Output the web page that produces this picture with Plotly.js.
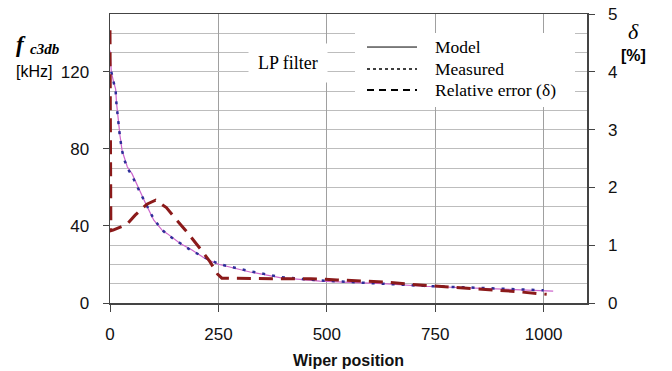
<!DOCTYPE html>
<html>
<head>
<meta charset="utf-8">
<script src="https://cdn.plot.ly/plotly-3.0.1.min.js"></script>
<style>html,body{margin:0;padding:0;background:#fff;}#chart{width:672px;height:371px;}</style>
</head>
<body>
<div id="chart"></div>
<script>
// Model (solid) cut-off frequency, kHz
const modelPos = [0, 3, 8, 13, 15, 18, 23, 28, 32, 40, 51, 69, 84, 101, 120, 132, 162, 189, 220, 250, 323, 392, 484, 553, 630, 723, 808, 877, 946, 1022];
const modelF   = [131, 120, 115, 111, 104, 96, 87, 79, 76, 70.6, 67, 57.7, 50.8, 43, 37.8, 36, 30.9, 27.5, 23, 20.1, 16.1, 13.2, 11.4, 10.7, 10.1, 8.7, 8.0, 7.5, 7.0, 6.2];
// Measured (dotted)
const measPos = [3, 8, 13, 15, 18, 23, 28, 32, 40, 51, 69, 84, 101, 120, 132, 162, 189, 220, 250, 323, 392, 484, 553, 630, 723, 808, 877, 946, 1000];
const measF   = [120, 114, 110, 103, 95, 86, 79, 75, 70, 66, 57.5, 51, 43.5, 38, 35.5, 31, 27, 23.5, 20.3, 16.5, 13.5, 11.7, 10.8, 10.0, 8.9, 8.2, 7.6, 7.2, 6.6];
// Relative error (dashed), %
const errPos = [0, 2, 7, 39, 58, 85, 105, 130, 151, 174, 208, 230, 248, 258, 384, 463, 524, 577, 637, 696, 757, 815, 877, 934, 992, 1007];
const errVal = [4.72, 1.25, 1.26, 1.36, 1.52, 1.71, 1.78, 1.65, 1.46, 1.26, 0.94, 0.72, 0.50, 0.43, 0.42, 0.42, 0.40, 0.38, 0.36, 0.32, 0.29, 0.25, 0.23, 0.20, 0.16, 0.15];
// Legend labels
const legendNames = ['Model', 'Measured', 'Relative error (δ)'];
const xTicks = [0, 250, 500, 750, 1000];

const traces = [
  {x: modelPos, y: modelF, type: 'scatter', mode: 'lines', name: legendNames[0],
   line: {color: '#cc66cc', width: 1.2}, showlegend: false},
  {x: measPos, y: measF, type: 'scatter', mode: 'lines', name: legendNames[1],
   line: {color: '#2e2e99', width: 2.5, dash: '3px,7px'}, showlegend: false},
  {x: errPos, y: errVal, type: 'scatter', mode: 'lines', name: legendNames[2], yaxis: 'y2',
   line: {color: '#8b1a1a', width: 3, dash: '14px,8px'}, showlegend: false}
];

const px = v => (v - 110) / 477;
const py = v => (302.7 - v) / 288.7;

const rowY = [47, 69, 90];
const sampleDash = ['solid', 'dot', '7px,5px'];
const sampleW = [1, 1.5, 2];

const shapes = [
  {type: 'rect', xref: 'paper', yref: 'paper', x0: px(355), x1: px(575), y0: py(107), y1: py(33),
   fillcolor: '#ffffff', line: {width: 0}, layer: 'above'}
];
const ann = (x, y, text, font, xanchor) => ({xref: 'paper', yref: 'paper', x: px(x), y: py(y), text: text,
  showarrow: false, xanchor: xanchor || 'center', yanchor: 'middle', font: font});
const annotations = [
  Object.assign(ann(288, 63, 'LP filter', {family: 'Liberation Serif', size: 18, color: '#000'}),
    {bgcolor: '#ffffff', borderpad: 9}),
  ann(14, 44, '<b><i>f</i></b>', {family: 'Liberation Serif', size: 23, color: '#000'}, 'left'),
  ann(28, 49, '<b><i>c3db</i></b>', {family: 'Liberation Serif', size: 15, color: '#000'}, 'left'),
  ann(34, 71, '[kHz]', {family: 'Liberation Sans', size: 16, color: '#000'}),
  ann(633, 31, '<i>δ</i>', {family: 'Liberation Serif', size: 22, color: '#000'}),
  ann(633, 55, '<b>[%]</b>', {family: 'Liberation Sans', size: 16, color: '#000'})
];
legendNames.forEach((n, i) => {
  shapes.push({type: 'line', xref: 'paper', yref: 'paper', x0: px(367), x1: px(417), y0: py(rowY[i]), y1: py(rowY[i]),
    line: {color: '#000', width: sampleW[i], dash: sampleDash[i]}, layer: 'above'});
  annotations.push(ann(433, rowY[i], n, {family: 'Liberation Serif', size: 17.5, color: '#000'}, 'left'));
});

const layout = {
  width: 672, height: 371,
  margin: {l: 110, r: 85, t: 14, b: 68.3},
  paper_bgcolor: '#fff', plot_bgcolor: '#fff',
  showlegend: false,
  font: {family: 'Liberation Sans', size: 17, color: '#111'},
  xaxis: {range: [0, 1100], tickvals: xTicks, ticktext: xTicks.map(String),
    showgrid: true, gridcolor: '#a0a0a0', gridwidth: 1, zeroline: false,
    showline: true, linecolor: '#444', linewidth: 1.5, mirror: true,
    ticks: 'outside', ticklen: 7, tickcolor: '#444', ticklabelstandoff: 8,
    title: {text: '<b>Wiper position</b>', font: {size: 16, color: '#111'}, standoff: 12}},
  yaxis: {range: [0, 150], tick0: 0, dtick: 40,
    showgrid: true, gridcolor: '#bdbdbd', gridwidth: 1, zeroline: false,
    minor: {dtick: 10, showgrid: true, gridcolor: '#bdbdbd', gridwidth: 1},
    showline: true, linecolor: '#444', linewidth: 1.5,
    ticks: 'outside', ticklen: 6, tickcolor: '#444', ticklabelstandoff: 10},
  yaxis2: {range: [0, 5], dtick: 1, overlaying: 'y', side: 'right',
    showgrid: false, zeroline: false, showline: true, linecolor: '#444', linewidth: 1.5,
    ticks: 'outside', ticklen: 6, tickcolor: '#444', ticklabelstandoff: 10},
  shapes: shapes,
  annotations: annotations
};

Plotly.newPlot('chart', traces, layout, {displayModeBar: false, staticPlot: true});
</script>
</body>
</html>
